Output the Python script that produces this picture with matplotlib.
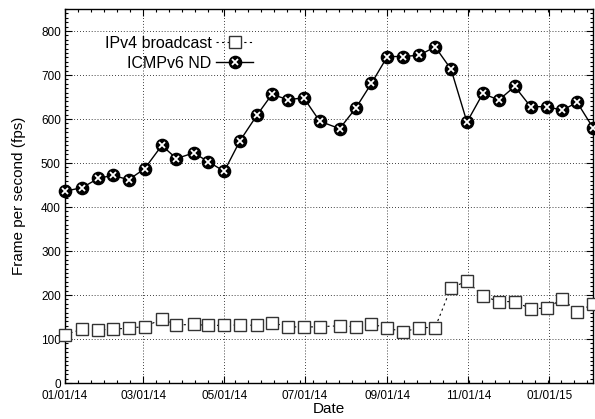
import matplotlib
matplotlib.use("Agg")
import matplotlib.pyplot as plt
import matplotlib.dates as mdates
from matplotlib.ticker import MultipleLocator, AutoMinorLocator
import pandas as pd

# dias desde 01/01/14 de cada medicion
dias = [0, 13, 25, 36, 48, 60, 73, 84, 97, 108, 120, 132, 145, 156, 168, 180,
        192, 207, 219, 231, 243, 255, 267, 279, 291, 303, 315, 327, 339, 351,
        363, 375, 386, 398]

icmpv6_nd = [436, 444, 465, 472, 462, 487, 540, 510, 523, 503, 481, 551, 610,
             656, 644, 648, 595, 578, 624, 681, 742, 742, 745, 764, 713, 593,
             658, 643, 674, 628, 628, 620, 638, 580]

ipv4_broadcast = [110, 122, 121, 122, 125, 128, 145, 132, 133, 131, 131, 132,
                  131, 137, 128, 127, 128, 130, 128, 134, 125, 116, 126, 126,
                  217, 231, 198, 185, 185, 169, 170, 191, 162, 179]

fechas = pd.Timestamp("2014-01-01") + pd.to_timedelta(dias, unit="D")

plt.rcParams['font.family'] = ['Liberation Sans', 'DejaVu Sans']

fig = plt.figure(figsize=(5.95, 4.19), dpi=100)
ax = fig.add_axes([65/595, 1 - 383/419, (593 - 65)/595, (383 - 9)/419])

l1, = ax.plot(fechas, ipv4_broadcast, linestyle=(0, (2, 3)), color='black', linewidth=0.8,
              marker='s', markersize=8, markerfacecolor='white', markeredgecolor='#333333',
              markeredgewidth=1.0, clip_on=False, zorder=3)

l2, = ax.plot(fechas, icmpv6_nd, linestyle='-', color='black', linewidth=1.0,
              marker='o', markersize=8.8, markerfacecolor='black', markeredgecolor='black',
              clip_on=False, zorder=4)
# detalle blanco dentro de los circulos
l3, = ax.plot(fechas, icmpv6_nd, linestyle='none', marker='x', markersize=3.8,
              markeredgecolor='white', markeredgewidth=1.3, clip_on=False, zorder=5)

ax.set_xlim(fechas[0], fechas[-1])
ax.set_ylim(0, 850)

ax.xaxis.set_major_locator(mdates.MonthLocator(bymonth=[1, 3, 5, 7, 9, 11]))
ax.xaxis.set_major_formatter(mdates.DateFormatter('%m/%d/%y'))
ax.xaxis.set_minor_locator(AutoMinorLocator(6))
ax.yaxis.set_major_locator(MultipleLocator(100))
ax.yaxis.set_minor_locator(MultipleLocator(10))

ax.tick_params(which='both', direction='in', top=True, right=True, labelsize=8.5,
               width=0.8, pad=3)
ax.tick_params(axis='x', which='major', pad=5)
ax.tick_params(which='major', length=5)
ax.tick_params(which='minor', length=2.5)
for s in ax.spines.values():
    s.set_linewidth(1.0)

ax.grid(True, which='major', linestyle=(0, (1, 2.5)), color='black', linewidth=0.6)

ax.set_xlabel('Date', fontsize=11, labelpad=0)
ax.set_ylabel('Frame per second (fps)', fontsize=11, labelpad=11)

ax.legend([l1, (l2, l3)], ['IPv4 broadcast', 'ICMPv6 ND'],
          loc='upper right', bbox_to_anchor=(261/595, 1 - 28/419),
          bbox_transform=fig.transFigure, frameon=False, markerfirst=False,
          fontsize=11.5, handlelength=2.3, handletextpad=0.3, labelspacing=0.3,
          borderpad=0)

fig.savefig('out.png', dpi=100)
